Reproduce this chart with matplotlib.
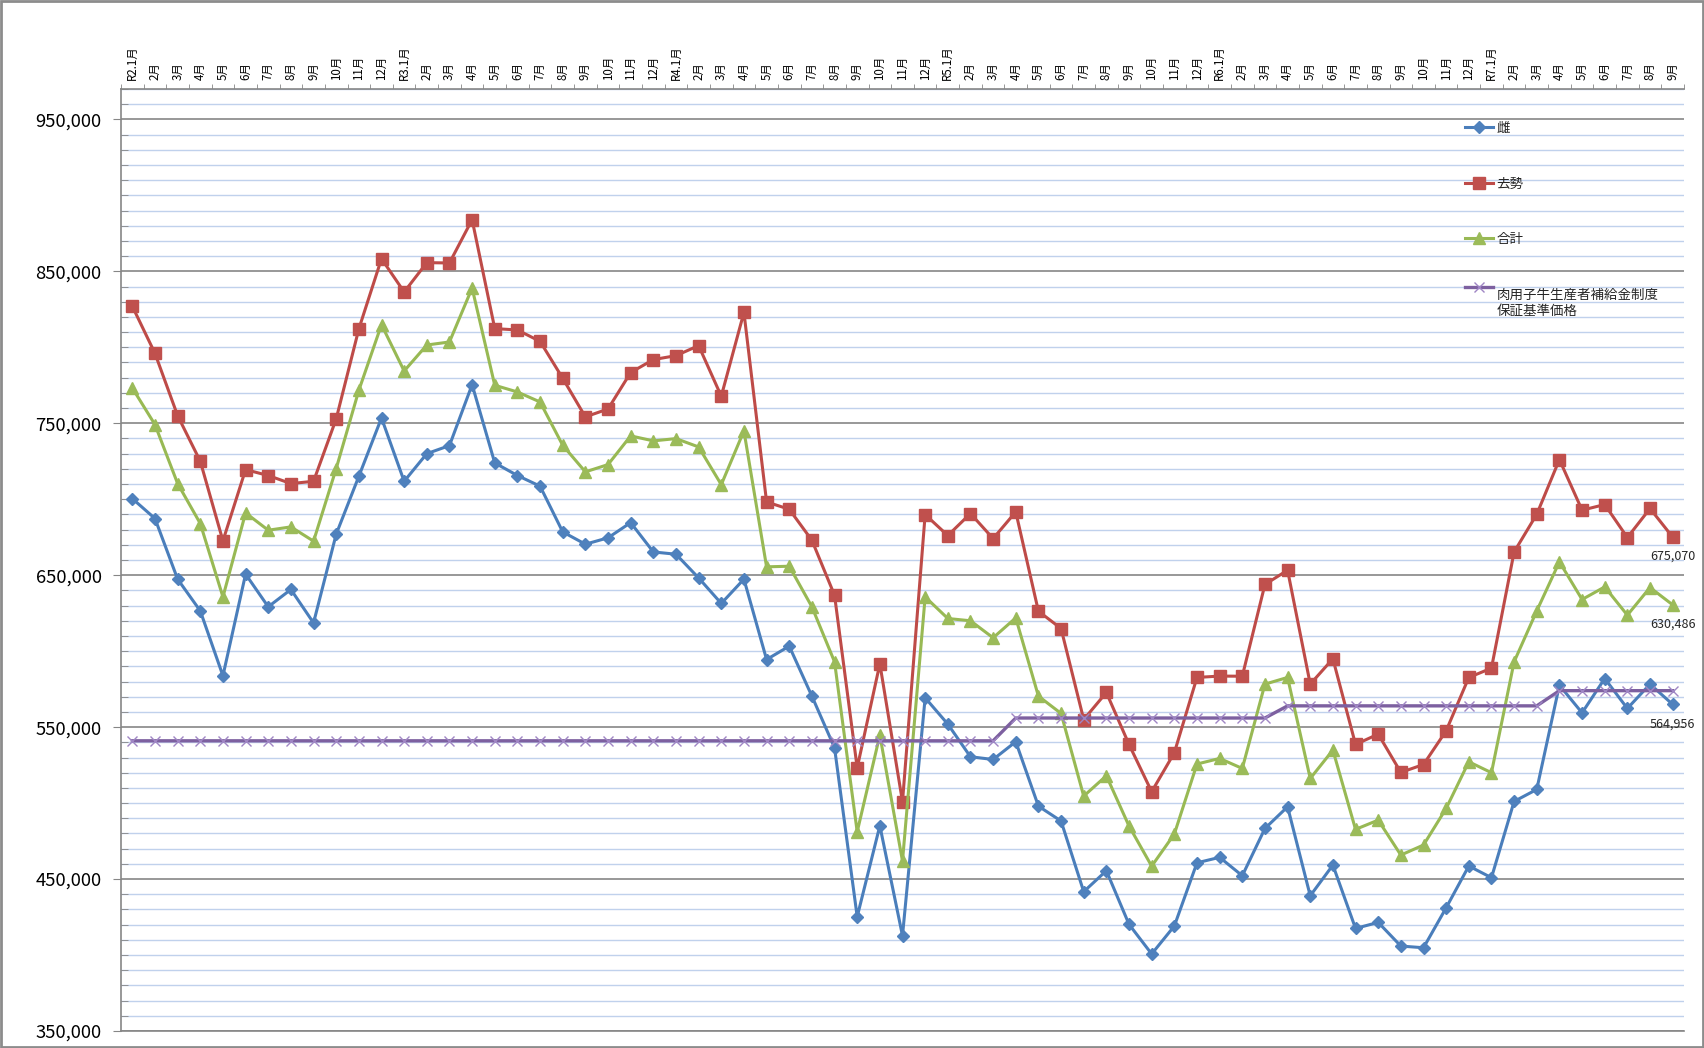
import numpy as np
import matplotlib
matplotlib.use("Agg")
import matplotlib.pyplot as plt
from matplotlib.ticker import FixedLocator, FuncFormatter
from matplotlib.patches import Rectangle

plt.rcParams['font.family'] = ['Noto Sans CJK JP', 'DejaVu Sans']

months = [
    "R2.1月", "2月", "3月", "4月", "5月", "6月", "7月", "8月", "9月", "10月", "11月", "12月",
    "R3.1月", "2月", "3月", "4月", "5月", "6月", "7月", "8月", "9月", "10月", "11月", "12月",
    "R4.1月", "2月", "3月", "4月", "5月", "6月", "7月", "8月", "9月", "10月", "11月", "12月",
    "R5.1月", "2月", "3月", "4月", "5月", "6月", "7月", "8月", "9月", "10月", "11月", "12月",
    "R6.1月", "2月", "3月", "4月", "5月", "6月", "7月", "8月", "9月", "10月", "11月", "12月",
    "R7.1月", "2月", "3月", "4月", "5月", "6月", "7月", "8月", "9月",
]

female = [
    700400, 687300, 647400, 626500, 583800, 650700, 629200, 640600, 618600, 677000,
    715100, 753500, 711800, 730000, 735300, 775400, 723900, 715600, 708600, 678500,
    670400, 674600, 684600, 665300, 663800, 648200, 631400, 647400, 594500, 603300,
    570400, 536400, 425200, 485100, 412700, 569300, 552000, 530500, 528700, 540400,
    498000, 488200, 441700, 455500, 420200, 400700, 419100, 460700, 464300, 452200,
    483300, 497600, 439000, 459200, 417500, 421500, 405900, 404800, 431100, 458600,
    450900, 501100, 509000, 577600, 559400, 582000, 562300, 578300, 564956,
]

castrated = [
    827000, 796000, 755000, 725000, 672600, 719500, 715600, 710300, 711800, 752900,
    812100, 858300, 836400, 855700, 855500, 884000, 812300, 811400, 803900, 779600,
    754200, 759400, 783400, 791900, 794500, 801100, 767800, 823000, 698200, 693400,
    673000, 636800, 523200, 591700, 500900, 689900, 676100, 690600, 674100, 691700,
    626300, 614900, 555000, 572800, 538600, 507500, 533100, 582700, 583600, 583500,
    643900, 653300, 578300, 595000, 538600, 545400, 520200, 525400, 547600, 582700,
    588800, 665300, 690100, 726100, 692800, 696500, 674800, 693900, 675070,
]

total = [
    773200, 749100, 710300, 684000, 635700, 691000, 679600, 681800, 672400, 720200,
    771700, 814900, 784400, 801500, 803500, 839000, 775000, 770600, 764000, 735500,
    718000, 722800, 741700, 738400, 739900, 734400, 709600, 745000, 655500, 655900,
    629200, 593000, 481100, 544700, 461800, 635700, 621500, 620000, 608800, 621900,
    570400, 559000, 504600, 518000, 484900, 458500, 479600, 525700, 529400, 522800,
    578300, 582700, 516200, 534900, 482700, 488800, 465800, 472400, 496500, 527200,
    520000, 593000, 626500, 658800, 634000, 642300, 623700, 641900, 630486,
]

guarantee = [
    541000, 541000, 541000, 541000, 541000, 541000, 541000, 541000, 541000, 541000,
    541000, 541000, 541000, 541000, 541000, 541000, 541000, 541000, 541000, 541000,
    541000, 541000, 541000, 541000, 541000, 541000, 541000, 541000, 541000, 541000,
    541000, 541000, 541000, 541000, 541000, 541000, 541000, 541000, 541000, 556000,
    556000, 556000, 556000, 556000, 556000, 556000, 556000, 556000, 556000, 556000,
    556000, 564000, 564000, 564000, 564000, 564000, 564000, 564000, 564000, 564000,
    564000, 564000, 564000, 574000, 574000, 574000, 574000, 574000, 574000,
]

series_names = ["雌", "去勢", "合計", "肉用子牛生産者補給金制度\n保証基準価格"]

W, H = 1704, 1048
fig = plt.figure(figsize=(W / 100, H / 100), dpi=100)
L, R, T, B = 121, 1684, 89, 1031
ax = fig.add_axes([L / W, 1 - B / H, (R - L) / W, (B - T) / H])

x = np.arange(len(months))
ax.set_xlim(-0.5, len(months) - 0.5)
ax.set_ylim(350000, 970000)

grey = '#868686'
ax.yaxis.set_major_locator(FixedLocator(np.arange(350000, 960001, 100000)))
ax.yaxis.set_minor_locator(FixedLocator(np.arange(350000, 970001, 10000)))
ax.yaxis.set_major_formatter(FuncFormatter(lambda v, p: f"{int(v):,}"))
ax.set_axisbelow(True)
ax.grid(which='minor', axis='y', color='#C0D1EC', lw=1.0)
ax.grid(which='major', axis='y', color=grey, lw=1.2)
ax.tick_params(axis='y', which='major', direction='out', length=6, color=grey,
               labelsize=13.3, pad=8)
ax.tick_params(axis='y', which='minor', direction='in', length=5, color=grey)

ax.xaxis.tick_top()
ax.set_xticks(x)
ax.set_xticklabels(months, rotation=90, fontsize=8.3)
ax.set_xticks(np.arange(-0.5, len(months), 1.0), minor=True)
ax.tick_params(axis='x', which='major', length=0, pad=6.5)
ax.tick_params(axis='x', which='minor', direction='out', length=3.5, color=grey)

for s in ['left', 'top', 'bottom']:
    ax.spines[s].set_color(grey)
    ax.spines[s].set_linewidth(1.2)
ax.spines['right'].set_visible(False)

l1, = ax.plot(x, female, color='#4A7EBB', lw=2.2, marker='D', ms=6.3,
              mfc='#4F81BD', mec='#4F81BD', zorder=3)
l2, = ax.plot(x, castrated, color='#BE4B48', lw=2.2, marker='s', ms=8,
              mfc='#C0504D', mec='#C0504D', zorder=3)
l3, = ax.plot(x, total, color='#98B954', lw=2.2, marker='^', ms=8.5,
              mfc='#9BBB59', mec='#9BBB59', zorder=3)
l4, = ax.plot(x, guarantee, color='#7D60A0', lw=2.4, marker='x', ms=7,
              mec='#9F86C4', mew=1.0, zorder=4)

for series in (castrated, total, female):
    ax.annotate(f"{series[-1]:,}", xy=(x[-1], series[-1]), xytext=(0, -14),
                textcoords='offset points', ha='center', va='center',
                fontsize=9, color='#262626')

leg = ax.legend([l1, l2, l3, l4], series_names, loc='upper left',
                bbox_to_anchor=(1465 / W, 1 - 121 / H), bbox_transform=fig.transFigure,
                frameon=False, fontsize=9.7, labelspacing=3.08, handlelength=2.1,
                handletextpad=0.25, borderpad=0, borderaxespad=0)
for t in leg.get_texts():
    t.set_color('#262626')

fig.canvas.draw()
r = fig.canvas.get_renderer()
texts = leg.get_texts()
step_px = texts[3].get_window_extent(r).height - texts[0].get_window_extent(r).height
h4 = leg.legend_handles[3]
h4.set_ydata(np.asarray(h4.get_ydata()) + step_px * 72 / fig.dpi)

fig.add_artist(Rectangle((0.0008, 0.0012), 0.9984, 0.9976, transform=fig.transFigure,
                         fill=False, ec='#8C8C8C', lw=2))

fig.savefig("out.png", dpi=100)
